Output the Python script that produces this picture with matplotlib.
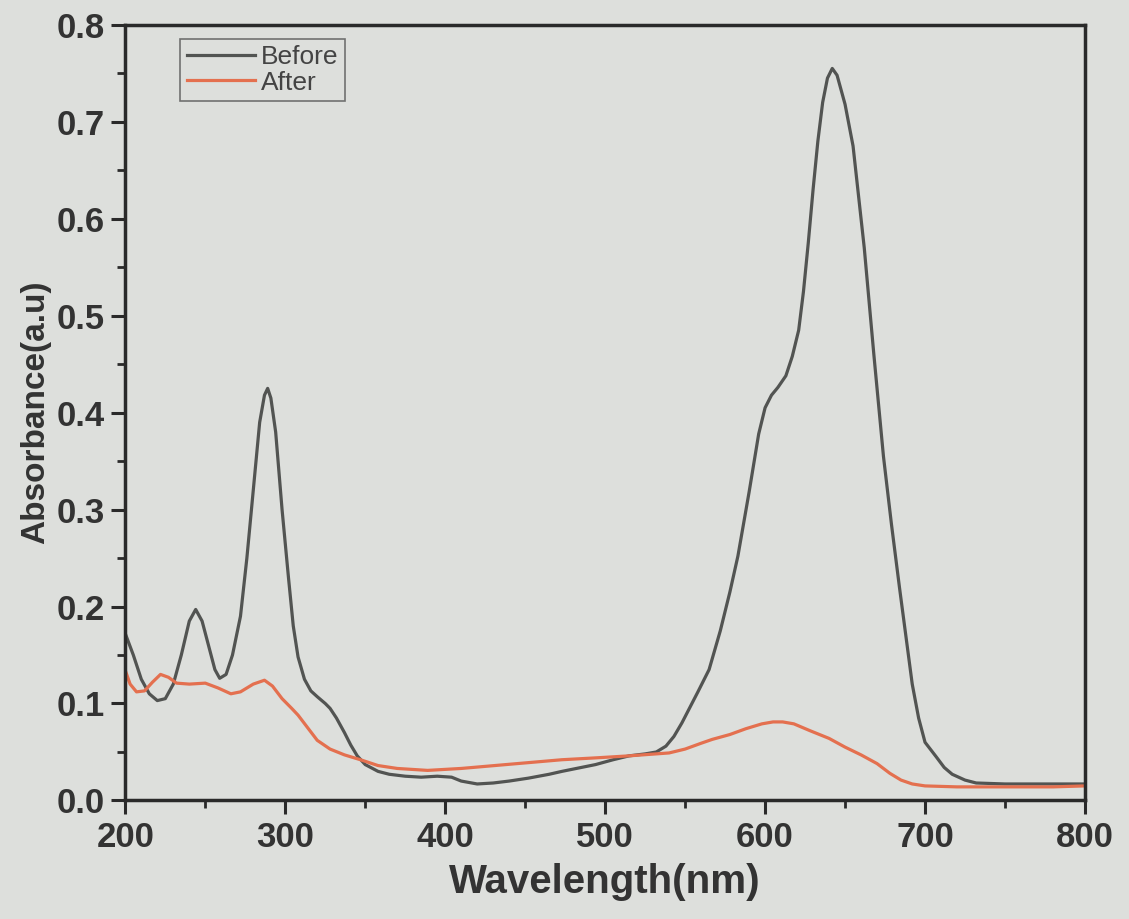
import matplotlib
matplotlib.use("Agg")
import matplotlib.pyplot as plt
from matplotlib.ticker import MultipleLocator

# UV-Vis spectrum
wl_before = [200, 205, 210, 215, 220, 225, 230, 235, 240, 244, 248, 252, 256, 259,
             263, 267, 272, 276, 280, 284, 287, 289, 291, 294, 298, 302, 305, 308,
             312, 316, 320, 325, 328, 332, 337, 341, 345, 350, 358, 365, 375, 385,
             395, 404, 410, 420, 430, 440, 452, 465, 473, 485, 494, 505, 515, 525,
             532, 538, 543, 548, 553, 558, 565, 572, 578, 583, 590, 596, 600, 604,
             608, 613, 617, 621, 624, 627, 630, 633, 636, 639, 642, 645, 650, 655,
             662, 668, 674, 679, 684, 688, 692, 696, 700, 707, 712, 717, 725, 732,
             750, 770, 800]
abs_before = [0.172, 0.150, 0.125, 0.110, 0.103, 0.105, 0.120, 0.150, 0.185, 0.197,
              0.185, 0.160, 0.135, 0.126, 0.130, 0.150, 0.190, 0.250, 0.320, 0.390,
              0.418, 0.425, 0.415, 0.380, 0.300, 0.230, 0.180, 0.148, 0.125, 0.113,
              0.107, 0.100, 0.095, 0.085, 0.070, 0.057, 0.046, 0.037, 0.030, 0.027,
              0.025, 0.024, 0.025, 0.024, 0.020, 0.017, 0.018, 0.020, 0.023, 0.027,
              0.030, 0.034, 0.037, 0.042, 0.046, 0.048, 0.050, 0.056, 0.066, 0.080,
              0.096, 0.112, 0.135, 0.175, 0.215, 0.252, 0.318, 0.378, 0.405, 0.418,
              0.426, 0.438, 0.458, 0.485, 0.525, 0.575, 0.630, 0.680, 0.720, 0.745,
              0.755, 0.748, 0.718, 0.675, 0.570, 0.460, 0.355, 0.285, 0.220, 0.170,
              0.120, 0.085, 0.060, 0.045, 0.034, 0.027, 0.021, 0.018, 0.017, 0.017,
              0.017]

wl_after = [200, 203, 207, 212, 217, 222, 227, 232, 240, 250, 258, 266, 272, 280,
            287, 292, 298, 304, 308, 314, 320, 328, 337, 347, 358, 370, 389, 410,
            431, 452, 473, 495, 515, 540, 550, 560, 567, 578, 588, 598, 605, 611,
            618, 628, 640, 650, 660, 670, 678, 685, 692, 700, 720, 750, 780, 800]
abs_after = [0.134, 0.120, 0.112, 0.113, 0.122, 0.130, 0.127, 0.121, 0.120, 0.121,
             0.116, 0.110, 0.112, 0.120, 0.124, 0.118, 0.105, 0.095, 0.088, 0.075,
             0.062, 0.053, 0.047, 0.042, 0.036, 0.033, 0.031, 0.033, 0.036, 0.039,
             0.042, 0.044, 0.046, 0.049, 0.053, 0.059, 0.063, 0.068, 0.074, 0.079,
             0.081, 0.081, 0.079, 0.072, 0.064, 0.055, 0.047, 0.038, 0.028, 0.021,
             0.017, 0.015, 0.014, 0.014, 0.014, 0.015]

bg = '#dddfdc'
plt.rcParams['font.family'] = ['Liberation Sans', 'DejaVu Sans']

fig = plt.figure(figsize=(11.29, 9.19), dpi=100, facecolor=bg)
ax = fig.add_axes([0.111, 0.129, 0.850, 0.844], facecolor=bg)

ax.plot(wl_before, abs_before, color='#525452', lw=2.3, label='Before')
ax.plot(wl_after, abs_after, color='#e4704f', lw=2.3, label='After')

ax.set_xlim(200, 800)
ax.set_ylim(0, 0.8)
ax.xaxis.set_major_locator(MultipleLocator(100))
ax.xaxis.set_minor_locator(MultipleLocator(50))
ax.yaxis.set_major_locator(MultipleLocator(0.1))
ax.yaxis.set_minor_locator(MultipleLocator(0.05))
ax.yaxis.set_major_formatter(plt.FormatStrFormatter('%.1f'))

for s in ax.spines.values():
    s.set_linewidth(2.5)
    s.set_color('#2a2a2a')
ax.tick_params(which='major', length=10, width=2.2, color='#2a2a2a',
               labelsize=25, labelcolor='#333333', pad=5)
ax.tick_params(which='minor', length=6, width=2.0, color='#2a2a2a')
for lab in ax.get_xticklabels() + ax.get_yticklabels():
    lab.set_fontweight('bold')

ax.set_xlabel('Wavelength(nm)', fontsize=29, fontweight='bold', color='#333333', labelpad=6)
ax.set_ylabel('Absorbance(a.u)', fontsize=24, fontweight='bold', color='#333333', labelpad=4)

leg = ax.legend(loc='upper left', bbox_to_anchor=(0.057, 0.982), fontsize=19,
                frameon=True, fancybox=False, handlelength=2.6, handletextpad=0.2,
                borderpad=0.25, labelspacing=0.05, borderaxespad=0)
leg.get_frame().set_edgecolor('#555555')
leg.get_frame().set_facecolor(bg)
leg.get_frame().set_linewidth(1.2)
for t in leg.get_texts():
    t.set_color('#444444')

fig.savefig('out.png', dpi=100, facecolor=bg)
